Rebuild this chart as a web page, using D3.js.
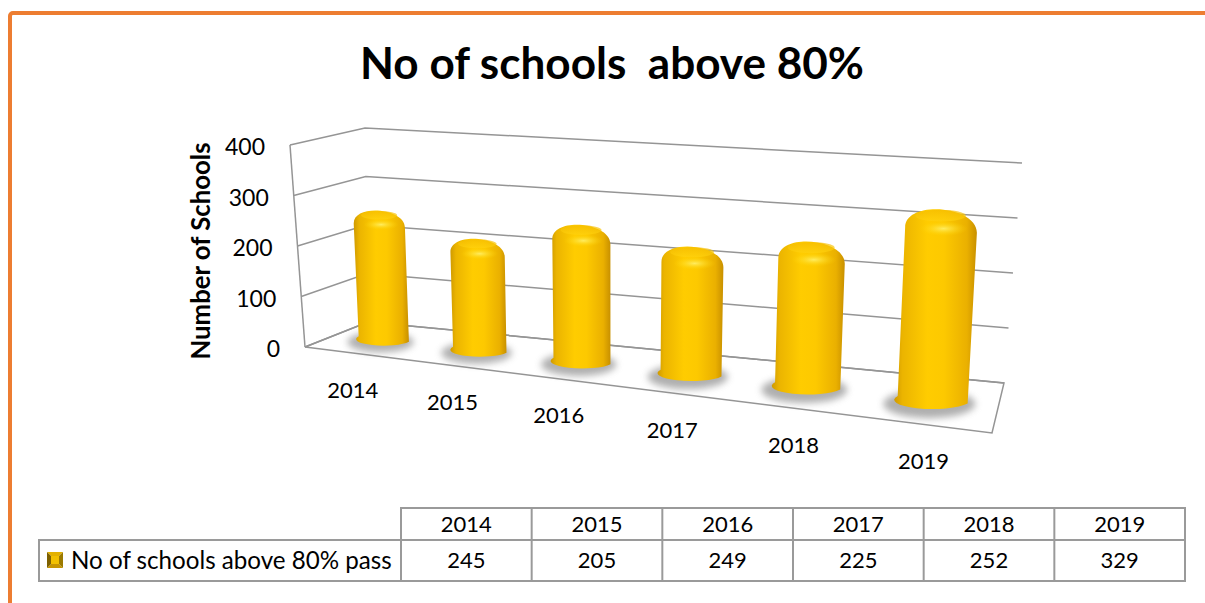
<!DOCTYPE html>
<html>
<head>
<meta charset="utf-8">
<script src="https://cdn.jsdelivr.net/npm/d3@7"></script>
<style>
  body { margin: 0; background: #fff; }
  svg { display: block; }
  text { font-family: Lato, "Noto Sans", sans-serif; fill: #000; }
</style>
</head>
<body>
<div id="vis"></div>
<script>
const FRAME_WIDTH = 1205;
const FRAME_HEIGHT = 603;

// data
const years = ["2014", "2015", "2016", "2017", "2018", "2019"];
const counts = [245, 205, 249, 225, 252, 329];
const yTicks = [0, 100, 200, 300, 400];
const seriesName = "No of schools above 80% pass";
const chartTitle = "No of schools  above 80%";
const yTitle = "Number of Schools";

// corners of the 3d box in screen space (front/back, bottom/top, left/right)
const FBL = [305, 347], FTL = [290, 145], FBR = [992, 433], FTR = [998, 205];
const BBL = [368, 322], BTL = [365, 128], BBR = [1004, 383], BTR = [1022, 163];
const PERSP = 0.82;

const X_SCALE = d3.scaleBand().domain(years).range([0, 1]);
const V_SCALE = d3.scaleLinear().domain([0, 400]).range([0, 1]);

function lerp(a, b, t) { return [a[0] + (b[0] - a[0]) * t, a[1] + (b[1] - a[1]) * t]; }
function persp(u) { return PERSP * u / (1 - (1 - PERSP) * u); }
// u: along categories, v: value, w: depth (0 front, 1 back)
function P(u, v, w) {
  const f = persp(u);
  const front = lerp(lerp(FBL, FBR, f), lerp(FTL, FTR, f), v);
  const back = lerp(lerp(BBL, BBR, f), lerp(BTL, BTR, f), v);
  return lerp(front, back, w);
}

const FRAME = d3.select("#vis")
  .append("svg")
    .attr("width", FRAME_WIDTH)
    .attr("height", FRAME_HEIGHT);

const defs = FRAME.append("defs");

const bodyGrad = defs.append("linearGradient").attr("id", "cylBody")
  .attr("x1", 0).attr("x2", 1).attr("y1", 0).attr("y2", 0);
[[0, "#cf9a00"], [0.1, "#ebb400"], [0.4, "#ffcc00"], [0.6, "#fdc900"], [0.88, "#eab000"], [1, "#c89000"]]
  .forEach(s => bodyGrad.append("stop").attr("offset", s[0]).attr("stop-color", s[1]));

const topGrad = defs.append("linearGradient").attr("id", "cylTop")
  .attr("x1", 0).attr("x2", 0).attr("y1", 0).attr("y2", 1);
[[0, "#f5bc00"], [1, "#ffd20f"]]
  .forEach(s => topGrad.append("stop").attr("offset", s[0]).attr("stop-color", s[1]));

const hiGrad = defs.append("radialGradient").attr("id", "cylHi");
hiGrad.append("stop").attr("offset", 0).attr("stop-color", "#fff06a").attr("stop-opacity", 0.9);
hiGrad.append("stop").attr("offset", 1).attr("stop-color", "#ffd400").attr("stop-opacity", 0);

defs.append("filter").attr("id", "blur")
  .attr("x", "-50%").attr("y", "-50%").attr("width", "200%").attr("height", "200%")
  .append("feGaussianBlur").attr("stdDeviation", 3.5);

// orange frame
FRAME.append("rect")
  .attr("x", 10).attr("y", 13)
  .attr("width", 1400).attr("height", 800)
  .attr("rx", 3)
  .attr("fill", "none")
  .attr("stroke", "#ed7d31")
  .attr("stroke-width", 4);

// title
const title = FRAME.append("text")
  .attr("x", 612).attr("y", 79)
  .attr("text-anchor", "middle")
  .style("font-weight", "bold")
  .style("font-size", "40px")
  .style("white-space", "pre")
  .text(chartTitle);
fitWidth(title, 504, 40);

// walls and gridlines
const grid = FRAME.append("g")
  .attr("stroke", "#959595")
  .attr("stroke-width", 1.5)
  .attr("fill", "none");

yTicks.forEach(t => {
  const v = V_SCALE(t);
  const a = P(0, v, 0), b = P(0, v, 1), c = P(1, v, 1);
  grid.append("polyline").attr("points", [a, b, c].map(p => p.join(",")).join(" "));
});
// front left edge of side wall
grid.append("line")
  .attr("x1", P(0, 0, 0)[0]).attr("y1", P(0, 0, 0)[1])
  .attr("x2", P(0, 1, 0)[0]).attr("y2", P(0, 1, 0)[1]);
// floor outline
grid.append("polygon")
  .attr("points", [P(0, 0, 0), P(1, 0, 0), P(1, 0, 1), P(0, 0, 1)].map(p => p.join(",")).join(" "));

// y tick labels
FRAME.append("g").selectAll("text")
  .data(yTicks)
  .enter()
  .append("text")
    .attr("x", d => P(0, V_SCALE(d), 0)[0] - 25)
    .attr("y", d => P(0, V_SCALE(d), 0)[1] + 2)
    .attr("dy", "0.35em")
    .attr("text-anchor", "end")
    .style("font-size", "23px")
    .text(d => d);

// y axis title
const yt = FRAME.append("text")
  .attr("transform", "translate(210,251) rotate(-90)")
  .attr("text-anchor", "middle")
  .style("font-weight", "bold")
  .style("font-size", "22px")
  .text(yTitle);
fitWidth(yt, 217, 22);

// cylinders
const W_DEPTH = 0.52;
const cyl = FRAME.append("g");
years.forEach((yr, i) => {
  const uc = X_SCALE(yr) + X_SCALE.bandwidth() / 2;
  const r = X_SCALE.bandwidth() * 0.27;
  const v = V_SCALE(counts[i]);
  const bl = P(uc - r, 0, W_DEPTH), br = P(uc + r, 0, W_DEPTH);
  const tl = P(uc - r, v, W_DEPTH), tr = P(uc + r, v, W_DEPTH);
  const bc = P(uc, 0, W_DEPTH), tc = P(uc, v, W_DEPTH);
  const rx = (br[0] - bl[0]) / 2;
  const ry = rx * 0.24;
  const k = rx * 0.35;
  const e = (ry + 0.25 * k) / 0.75;

  // shadow on the floor
  cyl.append("ellipse")
    .attr("cx", bc[0] - 3).attr("cy", bc[1] + ry * 0.5)
    .attr("rx", rx * 1.32).attr("ry", ry * 1.7)
    .attr("fill", "#7a7a7a")
    .attr("opacity", 0.6)
    .attr("filter", "url(#blur)");

  const path = d3.path();
  path.moveTo(bl[0], bl[1]);
  path.lineTo(tl[0], tl[1] + k);
  path.bezierCurveTo(tl[0], tl[1] - e, tr[0], tr[1] - e, tr[0], tr[1] + k);
  path.lineTo(br[0], br[1]);
  cyl.append("path")
    .attr("d", path.toString() + " A" + rx + "," + ry + " 0 0 1 " + bl[0] + "," + bl[1] + " Z")
    .attr("fill", "url(#cylBody)");

  // top face and highlight
  cyl.append("ellipse")
    .attr("cx", tc[0]).attr("cy", tc[1] - ry * 0.25)
    .attr("rx", rx * 0.72).attr("ry", ry * 0.7)
    .attr("fill", "url(#cylTop)")
    .attr("opacity", 0.7);
  cyl.append("ellipse")
    .attr("cx", tc[0] + rx * 0.08).attr("cy", tc[1] + ry * 1.3)
    .attr("rx", rx * 0.7).attr("ry", ry * 0.9)
    .attr("fill", "url(#cylHi)");
});

// category labels
FRAME.append("g").selectAll("text")
  .data(years)
  .enter()
  .append("text")
    .attr("x", d => P(X_SCALE(d) + X_SCALE.bandwidth() / 2, 0, 0)[0])
    .attr("y", d => P(X_SCALE(d) + X_SCALE.bandwidth() / 2, 0, 0)[1] + 37)
    .attr("dy", "0.35em")
    .attr("text-anchor", "middle")
    .style("font-size", "22px")
    .text(d => d);

// data table
const T_X = d3.scaleBand().domain(years).range([401, 1185]);
const ROW1 = [508, 540], ROW2 = [540, 581];
const table = FRAME.append("g");
const tLines = table.append("g").attr("stroke", "#9a9a9a").attr("stroke-width", 2).attr("fill", "none");
tLines.append("rect").attr("x", 401).attr("y", ROW1[0]).attr("width", 784).attr("height", ROW2[1] - ROW1[0]);
tLines.append("rect").attr("x", 39).attr("y", ROW2[0]).attr("width", 362).attr("height", ROW2[1] - ROW2[0]);
tLines.append("line").attr("x1", 401).attr("x2", 1185).attr("y1", ROW1[1]).attr("y2", ROW1[1]);
years.slice(1).forEach(yr => {
  tLines.append("line").attr("x1", T_X(yr)).attr("x2", T_X(yr)).attr("y1", ROW1[0]).attr("y2", ROW2[1]);
});

table.selectAll(".hdr")
  .data(years)
  .enter()
  .append("text")
    .attr("x", d => T_X(d) + T_X.bandwidth() / 2)
    .attr("y", (ROW1[0] + ROW1[1]) / 2)
    .attr("dy", "0.35em")
    .attr("text-anchor", "middle")
    .style("font-size", "22px")
    .text(d => d);

table.selectAll(".val")
  .data(counts)
  .enter()
  .append("text")
    .attr("x", (d, i) => T_X(years[i]) + T_X.bandwidth() / 2)
    .attr("y", (ROW2[0] + ROW2[1]) / 2)
    .attr("dy", "0.35em")
    .attr("text-anchor", "middle")
    .style("font-size", "22px")
    .text(d => d);

// legend key with bevel
const key = table.append("g").attr("transform", "translate(47,552)");
const ks = 16;
key.append("polygon").attr("points", `0,0 ${ks},0 ${ks / 2},${ks / 2}`).attr("fill", "#e3b100");
key.append("polygon").attr("points", `0,${ks} ${ks},${ks} ${ks / 2},${ks / 2}`).attr("fill", "#c79500");
key.append("polygon").attr("points", `0,0 0,${ks} ${ks / 2},${ks / 2}`).attr("fill", "#7d6000");
key.append("polygon").attr("points", `${ks},0 ${ks},${ks} ${ks / 2},${ks / 2}`).attr("fill", "#9c7a00");
key.append("rect").attr("x", 4).attr("y", 4).attr("width", ks - 8).attr("height", ks - 8).attr("fill", "#f2c000");

const lbl = table.append("text")
  .attr("x", 71)
  .attr("y", (ROW2[0] + ROW2[1]) / 2)
  .attr("dy", "0.35em")
  .style("font-size", "22px")
  .text(seriesName);
fitWidth(lbl, 321, 22);

function fitWidth(sel, target, base) {
  const w = sel.node().getComputedTextLength();
  if (w > 0) sel.style("font-size", (base * target / w) + "px");
}
</script>
</body>
</html>
